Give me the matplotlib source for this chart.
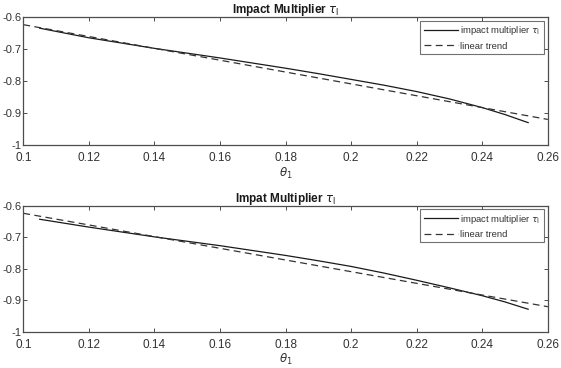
import matplotlib
matplotlib.use("Agg")
import matplotlib.pyplot as plt

plt.rcParams['font.family'] = ['Liberation Sans', 'DejaVu Sans']
plt.rcParams['mathtext.fontset'] = 'dejavusans'

# ---- data ----
theta = [0.105, 0.12, 0.14, 0.16, 0.18, 0.19, 0.20, 0.21, 0.22, 0.23, 0.24, 0.247, 0.254]
top_multiplier = [-0.634, -0.664, -0.697, -0.727, -0.759, -0.776, -0.794, -0.812, -0.832,
                  -0.855, -0.882, -0.904, -0.929]
bottom_multiplier = [-0.643, -0.668, -0.699, -0.727, -0.758, -0.775, -0.793, -0.814, -0.837,
                     -0.861, -0.886, -0.906, -0.929]

trend_x = [0.10, 0.26]
top_trend = [-0.623, -0.919]
bottom_trend = [-0.624, -0.921]

titles = [r"Impact Multiplier $\tau_{\mathrm{I}}$", r"Impat Multiplier $\tau_{\mathrm{I}}$"]
xticks = [0.1, 0.12, 0.14, 0.16, 0.18, 0.2, 0.22, 0.24, 0.26]
xticklabels = ["0.1", "0.12", "0.14", "0.16", "0.18", "0.2", "0.22", "0.24", "0.26"]
yticks = [-1, -0.9, -0.8, -0.7, -0.6]
yticklabels = ["-1", "-0.9", "-0.8", "-0.7", "-0.6"]
legend_labels = [r"impact multiplier $\tau_{\mathrm{I}}$", "linear trend"]

fig = plt.figure(figsize=(5.61, 3.68), dpi=100)
axes_pos = [
    [0.0415, 0.605, 0.935, 0.348],
    [0.0415, 0.099, 0.935, 0.342],
]
series = [(top_multiplier, top_trend), (bottom_multiplier, bottom_trend)]
axcol = '#4d4d4d'
for pos, (mult, trend), title in zip(axes_pos, series, titles):
    ax = fig.add_axes(pos)
    ax.plot(theta, mult, color='#1a1a1a', lw=0.9, label=legend_labels[0])
    ax.plot(trend_x, trend, color='#333333', lw=0.9, ls=(0, (5.5, 3.5)), label=legend_labels[1])
    ax.set_xlim(0.1, 0.26)
    ax.set_ylim(-1, -0.6)
    ax.set_xticks(xticks)
    ax.set_xticklabels(xticklabels)
    ax.set_yticks(yticks)
    ax.set_yticklabels(yticklabels)
    ax.tick_params(direction='in', top=True, right=True, length=3, width=0.7,
                   colors=axcol, labelcolor='#333333', labelsize=8.5)
    ax.tick_params(axis='x', pad=5)
    ax.tick_params(axis='y', pad=1.5, labelsize=8)
    for s in ax.spines.values():
        s.set_color(axcol)
        s.set_linewidth(0.9)
    ax.set_title(title, fontsize=8.5, fontweight='bold', pad=3, color='#1a1a1a')
    ax.set_xlabel(r"$\theta_1$", fontsize=8.5, color='#333333', labelpad=1)
    leg = ax.legend(loc='upper right', fontsize=6.8, frameon=True, fancybox=False,
                    edgecolor=axcol, handlelength=3.6, handletextpad=0.3,
                    borderpad=0.35, labelspacing=0.45, borderaxespad=0.4)
    leg.get_frame().set_linewidth(0.8)
    for t in leg.get_texts():
        t.set_color('#333333')

fig.savefig("out.png", dpi=100)
